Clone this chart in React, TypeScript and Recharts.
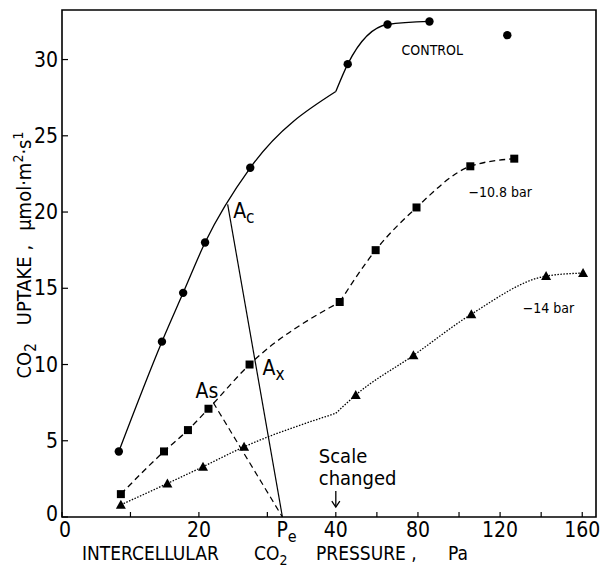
import {
  ComposedChart,
  Line,
  Scatter,
  XAxis,
  YAxis,
  Label,
  ReferenceArea,
  ReferenceLine,
  ReferenceDot,
} from "recharts";

const FONT = "'Liberation Sans Narrow', 'DejaVu Sans Condensed', sans-serif";

// x axis is broken at 40 Pa: past that point one Pa takes 0.3 of the space
const BREAK = 40;
const UPPER = 0.3;
const toT = (pa: number) => (pa <= BREAK ? pa : BREAK + (pa - BREAK) * UPPER);
const toPa = (t: number) => (t <= BREAK ? t : BREAK + (t - BREAK) / UPPER);

const X_LABELS = [0, 20, 40, 80, 120, 160];
const X_MINOR = [10, 30, 60, 100, 140];
const Y_TICKS = [0, 5, 10, 15, 20, 25, 30];
const X_MAX = toT(166.7);
const Y_MAX = 33.25;

// control
const CONTROL_PA = [8.3, 14.6, 17.7, 20.9, 27.5, 45.8, 65.2, 85.6, 123.5];
const CONTROL_A = [4.3, 11.5, 14.7, 18.0, 22.9, 29.7, 32.3, 32.5, 31.6];
const CONTROL_BEND = [40, 27.9];
const CONTROL_CURVE_END = 85.6;

// -10.8 bar
const BAR108_PA = [8.6, 14.9, 18.4, 21.4, 27.4, 41.9, 59.4, 79.3, 105.5, 126.9];
const BAR108_A = [1.5, 4.3, 5.7, 7.1, 10.0, 14.1, 17.5, 20.3, 23.0, 23.5];
const BAR108_BEND = [41.9, 14.1];

// -14 bar
const BAR14_PA = [8.6, 15.4, 20.6, 26.6, 49.7, 77.8, 106, 142.4, 160.4];
const BAR14_A = [0.8, 2.2, 3.3, 4.6, 8.0, 10.6, 13.3, 15.8, 16.0];
const BAR14_BEND = [40, 6.8];

const AC = [24.2, 20.5];
const AS = [22.1, 7.5];
const PE = 32.2;

type P = { t: number; a: number };
const pts = (pa: number[], a: number[]): P[] => pa.map((p, i) => ({ t: toT(p), a: a[i] }));

// the curves kink where the scale changes, so each one is drawn in two pieces
const split = (list: P[], bend: number[], end = Infinity) => {
  const b = { t: toT(bend[0]), a: bend[1] };
  const inRange = list.filter((p) => p.t <= toT(end));
  return [
    [...inRange.filter((p) => p.t < b.t), b],
    [b, ...inRange.filter((p) => p.t > b.t)],
  ];
};

const controlPts = pts(CONTROL_PA, CONTROL_A);
const [controlLow, controlHigh] = split(controlPts, CONTROL_BEND, CONTROL_CURVE_END);
const bar108Pts = pts(BAR108_PA, BAR108_A);
const [bar108Low, bar108High] = split(bar108Pts, BAR108_BEND);
const bar14Pts = pts(BAR14_PA, BAR14_A);
const [bar14Low, bar14High] = split(bar14Pts, BAR14_BEND);

const xTicks = [...X_LABELS, ...X_MINOR, PE].map(toT).sort((p, q) => p - q);

const Circle = (p: any) => <circle cx={p.cx} cy={p.cy} r={4.2} fill="#000" />;
const Square = (p: any) => <rect x={p.cx - 4} y={p.cy - 4} width={8} height={8} fill="#000" />;
const Tri = (p: any) => (
  <path d={`M${p.cx},${p.cy - 5}L${p.cx + 5},${p.cy + 4}L${p.cx - 5},${p.cy + 4}Z`} fill="#000" />
);

const XTick = (props: any) => {
  const { x, y, payload } = props;
  const pa = Math.round(toPa(payload.value) * 10) / 10;
  if (Math.abs(pa - PE) < 0.05) {
    return (
      <text x={x - 6} y={y + 20} fontFamily={FONT} fontSize={21} fill="#000">
        P<tspan dy={5} fontSize={16}>e</tspan>
      </text>
    );
  }
  const major = X_LABELS.includes(pa);
  return (
    <g>
      <line x1={x} x2={x} y1={y} y2={y - 5} stroke="#000" strokeWidth={1.2} />
      {major && (
        <text x={pa === 0 ? x + 3 : x} y={y + 20} textAnchor="middle" fontFamily={FONT} fontSize={21} fill="#000">
          {pa}
        </text>
      )}
    </g>
  );
};

const YTick = (props: any) => {
  const { x, y, payload } = props;
  return (
    <g>
      <line x1={x} x2={x + 6} y1={y} y2={y} stroke="#000" strokeWidth={1.2} />
      <text x={x - 4} y={payload.value === 0 ? y + 4 : y + 7} textAnchor="end" fontFamily={FONT} fontSize={21} fill="#000">
        {payload.value}
      </text>
    </g>
  );
};

const txt = (s: string, size: number) => (p: any) => (
  <text x={p.cx} y={p.cy} fontFamily={FONT} fontSize={size} fill="#000">
    {s}
  </text>
);

const subTxt = (main: string, sub: string) => (p: any) => (
  <text x={p.cx} y={p.cy} fontFamily={FONT} fontSize={21} fill="#000">
    {main}
    <tspan dy={5} fontSize={17}>{sub}</tspan>
  </text>
);

const ScaleNote = (p: any) => (
  <g>
    <text x={p.cx - 17} y={p.cy - 44} fontFamily={FONT} fontSize={20} fill="#000">Scale</text>
    <text x={p.cx - 17} y={p.cy - 22} fontFamily={FONT} fontSize={20} fill="#000">changed</text>
    <line x1={p.cx} x2={p.cx} y1={p.cy - 16} y2={p.cy} stroke="#000" strokeWidth={1.3} />
    <path d={`M${p.cx - 4},${p.cy - 6}L${p.cx},${p.cy}L${p.cx + 4},${p.cy - 6}`} fill="none" stroke="#000" strokeWidth={1.3} />
  </g>
);

const YTitle = () => (
  <text
    transform="translate(31, 255) rotate(-90)"
    textAnchor="middle"
    fontFamily={FONT}
    fontSize={20}
    fill="#000"
  >
    CO<tspan dy={5} fontSize={15}>2</tspan>
    <tspan dy={-5} dx={18}>UPTAKE ,</tspan>
    <tspan dx={14}>μmol·m</tspan>
    <tspan dy={-8} fontSize={14}>2</tspan>
    <tspan dy={8}>·s</tspan>
    <tspan dy={-8} fontSize={14}>1</tspan>
  </text>
);

const XTitle = () => (
  <g fontFamily={FONT} fontSize={19} fill="#000">
    <text x={82} y={560}>INTERCELLULAR</text>
    <text x={254} y={560}>
      CO<tspan dy={5} fontSize={14}>2</tspan>
    </text>
    <text x={316} y={560}>PRESSURE ,</text>
    <text x={448} y={560}>Pa</text>
  </g>
);

const curve = (data: P[], dash?: string, key?: string) => (
  <Line
    key={key}
    data={data}
    dataKey="a"
    type="monotone"
    stroke="#000"
    strokeWidth={1.3}
    strokeDasharray={dash}
    dot={false}
    isAnimationActive={false}
  />
);

export default function App() {
  return (
    <div style={{ position: "absolute", left: 0, top: 0, background: "#fff" }}>
      <ComposedChart width={600} height={567} margin={{ top: 10, right: 4, bottom: 0, left: 0 }}>
        <XAxis
          dataKey="t"
          type="number"
          domain={[0, X_MAX]}
          ticks={xTicks}
          interval={0}
          tick={<XTick />}
          tickSize={0}
          tickMargin={0}
          tickLine={false}
          axisLine={false}
          height={50}
        >
          <Label content={<XTitle />} />
        </XAxis>
        <YAxis
          type="number"
          domain={[0, Y_MAX]}
          ticks={Y_TICKS}
          interval={0}
          tick={<YTick />}
          tickSize={0}
          tickMargin={0}
          tickLine={false}
          axisLine={false}
          width={62}
        >
          <Label content={<YTitle />} />
        </YAxis>
        <ReferenceArea x1={0} x2={X_MAX} y1={0} y2={Y_MAX} fill="none" stroke="#000" strokeWidth={1.6} />

        {curve(controlLow, undefined, "c1")}
        {curve(controlHigh, undefined, "c2")}
        {curve(bar108Low, "6 4", "m1")}
        {curve(bar108High, "6 4", "m2")}
        {curve(bar14Low, "1.5 1.5", "t1")}
        {curve(bar14High, "1.5 1.5", "t2")}

        <Scatter data={controlPts} dataKey="a" shape={Circle} isAnimationActive={false} />
        <Scatter data={bar108Pts} dataKey="a" shape={Square} isAnimationActive={false} />
        <Scatter data={bar14Pts} dataKey="a" shape={Tri} isAnimationActive={false} />

        <ReferenceLine segment={[{ x: toT(AC[0]), y: AC[1] }, { x: toT(PE), y: 0 }]} stroke="#000" strokeWidth={1.2} />
        <ReferenceLine segment={[{ x: toT(AS[0]), y: AS[1] }, { x: toT(PE), y: 0 }]} stroke="#000" strokeWidth={1.2} strokeDasharray="6 4" />

        <ReferenceDot x={toT(25.0)} y={19.6} r={0} shape={subTxt("A", "c")} />
        <ReferenceDot x={toT(29.3)} y={9.3} r={0} shape={subTxt("A", "x")} />
        <ReferenceDot x={toT(19.5)} y={7.8} r={0} shape={txt("As", 21)} />
        <ReferenceDot x={toT(72)} y={30.3} r={0} shape={txt("CONTROL", 14)} />
        <ReferenceDot x={toT(104.6)} y={21.0} r={0} shape={txt("−10.8  bar", 14)} />
        <ReferenceDot x={toT(131)} y={13.4} r={0} shape={txt("−14  bar", 14)} />
        <ReferenceDot x={toT(40)} y={0.65} r={0} shape={ScaleNote} />
      </ComposedChart>
    </div>
  );
}
